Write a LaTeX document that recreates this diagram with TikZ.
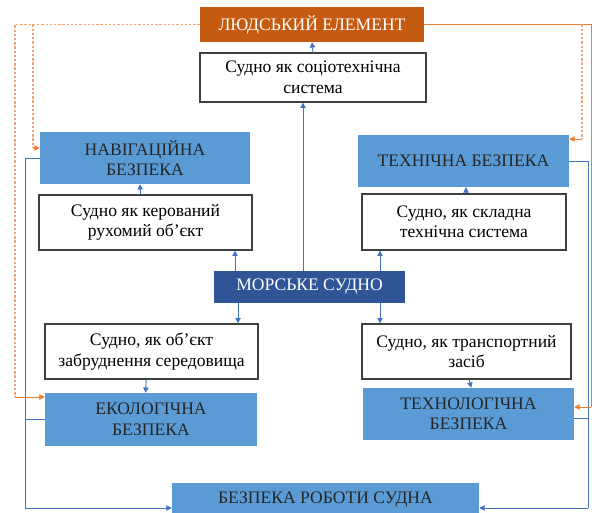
\documentclass[tikz,border=0pt]{standalone}
\usepackage{fontspec}
\setmainfont{Liberation Serif}
\usetikzlibrary{arrows.meta, calc}
\definecolor{humanorange}{HTML}{C55A11}
\definecolor{safeblue}{HTML}{5B9BD5}
\definecolor{shipblue}{HTML}{2F5597}
\definecolor{linkblue}{HTML}{4472C4}
\definecolor{linkorange}{HTML}{ED7D31}

\begin{document}
\begin{tikzpicture}[
    x=0.03cm, y=-0.03cm,
    bfont/.style={font=\fontsize{15}{17.5}\selectfont, align=center, inner sep=1pt},
    wbox/.style={bfont, draw=black!75, line width=1.1pt, fill=white},
    sbox/.style={bfont, fill=safeblue, text=black!85},
    hbox/.style={bfont, fill=humanorange, text=white},
    mbox/.style={bfont, fill=shipblue, text=white},
    link/.style={-{Triangle[length=4.5pt, width=4.5pt]}, linkblue, line width=0.8pt},
    rail/.style={linkblue, line width=0.8pt},
    olink/.style={-{Triangle[length=4.5pt, width=4.5pt]}, linkorange, line width=0.8pt},
    orail/.style={linkorange, line width=0.8pt},
    odash/.style={linkorange!70, line width=0.9pt, dash pattern=on 2pt off 1.6pt}]

    \useasboundingbox (0,0) rectangle (592,513);

    % ================= top: the human element =================
    \node[hbox, minimum width=6.72cm, minimum height=1.05cm] (human) at (312, 24.5) {ЛЮДСЬКИЙ ЕЛЕМЕНТ};
    \node[wbox, minimum width=6.78cm, minimum height=1.47cm] (socio) at (313, 77.5) {Судно як соціотехнічна\\система};

    % ================= safety blocks and ship views =================
    \node[sbox, minimum width=6.30cm, minimum height=1.56cm] (navig) at (145, 158) {НАВІГАЦІЙНА\\БЕЗПЕКА};
    \node[sbox, minimum width=6.33cm, minimum height=1.56cm] (tech) at (463.5, 161) {ТЕХНІЧНА БЕЗПЕКА};
    \node[wbox, minimum width=6.39cm, minimum height=1.65cm] (steer) at (145.5, 222.5) {Судно як керований\\рухомий об’єкт};
    \node[wbox, minimum width=6.12cm, minimum height=1.68cm] (complex) at (464, 222) {Судно, як складна\\технічна система};

    \node[mbox, minimum width=5.73cm, minimum height=0.96cm] (ship) at (309.5, 287) {МОРСЬКЕ СУДНО};

    \node[wbox, minimum width=6.39cm, minimum height=1.65cm] (pollut) at (151.5, 351.5) {Судно, як об’єкт\\забруднення середовища};
    \node[wbox, minimum width=6.27cm, minimum height=1.65cm] (transp) at (466.5, 351.5) {Судно, як транспортний\\засіб};
    \node[sbox, minimum width=6.36cm, minimum height=1.59cm] (eco) at (151, 419.5) {ЕКОЛОГІЧНА\\БЕЗПЕКА};
    \node[sbox, minimum width=6.33cm, minimum height=1.56cm] (techno) at (468.5, 414) {ТЕХНОЛОГІЧНА\\БЕЗПЕКА};

    \node[sbox, minimum width=9.21cm, minimum height=0.99cm] (work) at (325.5, 499.5) {БЕЗПЕКА РОБОТИ СУДНА};

    % ================= guide coordinates =================
    \coordinate (upL) at (235, 0);
    \coordinate (upM) at (303, 0);
    \coordinate (upR) at (380, 0);
    \coordinate (dnL) at (238, 0);
    \coordinate (railL) at (25, 0);
    \coordinate (railR) at (588, 0);
    \coordinate (railB) at (0, 508);
    \coordinate (orOutL) at (15, 0);
    \coordinate (orInL) at (33, 0);
    \coordinate (orInR) at (582, 0);
    \coordinate (orOutR) at (591, 0);
    \coordinate (navIn) at (0, 148);
    \coordinate (techIn) at (0, 139);
    \coordinate (ecoIn) at (0, 397);
    \coordinate (technoIn) at (0, 407);
    \coordinate (technoOut) at (0, 418);

    % the ship feeds every view of it -
    \draw[link] (socio.north) -- (human.south);
    \draw[link] (ship.north -| upM) -- (socio.south -| upM);
    \draw[link] (ship.north -| upL) -- (steer.south -| upL);
    \draw[link] (ship.north -| upR) -- (complex.south -| upR);
    \draw[link] (ship.south -| dnL) -- (pollut.north -| dnL);
    \draw[link] (ship.south -| upR) -- (transp.north -| upR);

    % each view feeds its safety block -
    \draw[link] ([xshift=-0.15cm]steer.north) -- ([xshift=-0.15cm]navig.south);
    \draw[link] ([xshift=0.06cm]complex.north) -- ([xshift=0.06cm]complex.north |- tech.south);
    \draw[link] ([xshift=-0.16cm]pollut.south) -- ([xshift=-0.16cm]eco.north);
    \draw[link] ([xshift=0.08cm]transp.south) -- ([xshift=0.08cm]techno.north);

    % the four safety blocks run into the safety of the ship's work -
    \draw[rail] (navig.west) -| (railL |- railB);
    \draw[rail] (eco.west) -- (eco.west -| railL);
    \draw[link] (railL |- railB) -- (work.west |- railB);
    \draw[rail] (tech.east) -| (railR |- railB);
    \draw[rail] (techno.east |- technoOut) -- (railR |- technoOut);
    \draw[link] (railR |- railB) -- (work.east |- railB);

    % the human element reaches all four -
    \draw[odash] (human.west) -| (orOutL |- ecoIn);
    \draw[olink] (orOutL |- ecoIn) -- (eco.west |- ecoIn);
    \draw[odash] (orInL |- human.west) -- (orInL |- navIn);
    \draw[olink] (orInL |- navIn) -- (navig.west |- navIn);
    \draw[orail] (human.east) -| (orOutR |- technoIn);
    \draw[olink] (orOutR |- technoIn) -- (techno.east |- technoIn);
    \draw[odash] (orInR |- human.east) -- (orInR |- techIn);
    \draw[olink] (orInR |- techIn) -- (tech.east |- techIn);
\end{tikzpicture}
\end{document}
